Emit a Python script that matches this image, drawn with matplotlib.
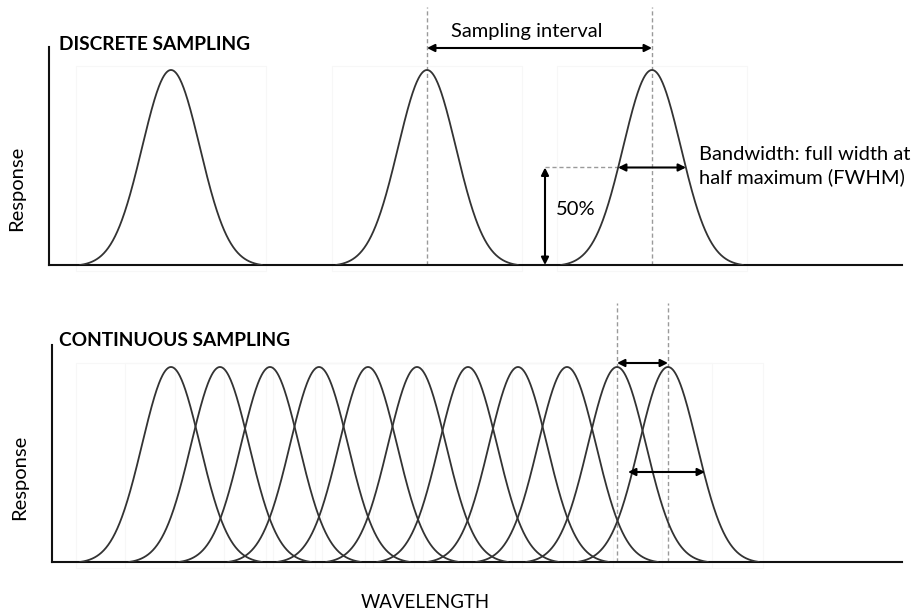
import numpy as np
import matplotlib
matplotlib.use("Agg")
import matplotlib.pyplot as plt
from matplotlib.patches import Rectangle

# ---- data (wavelength positions in arbitrary units, response normalised to 1) ----
discrete_centers = [171, 427, 652]
continuous_centers = [171, 220, 270, 319, 368, 417, 468, 518, 567, 617, 668]
peak_response = 1.0
fwhm = 68.0          # full width at half maximum
support_half = 91.0  # where each band response reaches zero

W, H = 920, 610
FONT = ["Lato", "DejaVu Sans"]
plt.rcParams["font.family"] = FONT

fig = plt.figure(figsize=(W / 100, H / 100), dpi=100)

def px_axes(left, right, top, bottom):
    return fig.add_axes([left / W, 1 - bottom / H, (right - left) / W, (bottom - top) / H])

ax1 = px_axes(49, 902, 47, 265)
ax2 = px_axes(52, 902, 345, 562)

ax1.set_xlim(49, 902)
ax1.set_ylim(0, (265 - 47) / 195)
ax2.set_xlim(52, 902)
ax2.set_ylim(0, (562 - 345) / 195)

sigma = fwhm / (2 * np.sqrt(2 * np.log(2)))

def band(ax, c):
    x = np.linspace(c - support_half, c + support_half, 400)
    y = peak_response * np.exp(-0.5 * ((x - c) / sigma) ** 2)
    y = y - y[0]
    y = y / y.max() * peak_response
    # faint bounding box (residual of the original graphic)
    ax.add_patch(Rectangle((c - 95, -0.03), 190, 1.05, fill=False,
                           edgecolor="#f7f7f7", lw=0.8, zorder=0, clip_on=False))
    ax.plot(x, y, color="#333333", lw=1.3, zorder=3, solid_capstyle="round")

for ax in (ax1, ax2):
    for s in ("top", "right"):
        ax.spines[s].set_visible(False)
    for s in ("left", "bottom"):
        ax.spines[s].set_linewidth(1.5)
        ax.spines[s].set_color("#111111")
    ax.set_xticks([])
    ax.set_yticks([])
    ax.patch.set_alpha(0)

for c in discrete_centers:
    band(ax1, c)
for c in continuous_centers:
    band(ax2, c)

dash_kw = dict(color="#9a9a9a", lw=1.0, linestyle=(0, (3, 2)), clip_on=False, zorder=2)
arrow_kw = dict(arrowstyle="<|-|>", color="black", lw=1.5, mutation_scale=11,
                shrinkA=0, shrinkB=0)
FS = 14.5

# ---- top panel annotations ----
c2, c3 = discrete_centers[1], discrete_centers[2]
for c in (c2, c3):
    ax1.plot([c, c], [0, (265 - 7) / 195], **dash_kw)
ax1.annotate("", xy=(c2, (265 - 48) / 195), xytext=(c3, (265 - 48) / 195),
             arrowprops=arrow_kw, annotation_clip=False)
ax1.text(527, (265 - 31) / 195, "Sampling interval", ha="center", va="center",
         fontsize=FS, clip_on=False)

half = 0.5 * peak_response
ax1.plot([545, c3 - fwhm / 2], [half, half], **dash_kw)
ax1.annotate("", xy=(545, half), xytext=(545, 0), arrowprops=arrow_kw, annotation_clip=False)
ax1.text(556, (265 - 210) / 195, "50%", ha="left", va="center", fontsize=FS)
ax1.annotate("", xy=(c3 - fwhm / 2, half), xytext=(c3 + fwhm / 2, half),
             arrowprops=arrow_kw, annotation_clip=False)
ax1.text(699, (265 - 166) / 195, "Bandwidth: full width at\nhalf maximum (FWHM)",
         ha="left", va="center", fontsize=FS, linespacing=1.3, clip_on=False)

ax1.text(59, (265 - 44) / 195, "DISCRETE SAMPLING", ha="left", va="center",
         fontsize=13.8, fontweight="bold", clip_on=False)

# ---- bottom panel annotations ----
ca, cb = continuous_centers[-2], continuous_centers[-1]
for c in (ca, cb):
    ax2.plot([c, c], [0, (562 - 303) / 195], **dash_kw)
ax2.annotate("", xy=(ca, (562 - 363) / 195), xytext=(cb, (562 - 363) / 195),
             arrowprops=arrow_kw, annotation_clip=False)
ax2.annotate("", xy=(628, (562 - 472) / 195), xytext=(705, (562 - 472) / 195),
             arrowprops=arrow_kw, annotation_clip=False)
ax2.text(59, (562 - 340) / 195, "CONTINUOUS SAMPLING", ha="left", va="center",
         fontsize=13.8, fontweight="bold", clip_on=False)

# ---- axis labels ----
fig.text(17 / W, 1 - 188 / H, "Response", rotation=90, ha="center", va="center", fontsize=FS)
fig.text(20 / W, 1 - 477 / H, "Response", rotation=90, ha="center", va="center", fontsize=FS)
fig.text(425 / W, 1 - 602 / H, "WAVELENGTH", ha="center", va="center", fontsize=13.4)

fig.savefig("out.png", dpi=100, facecolor="white")
